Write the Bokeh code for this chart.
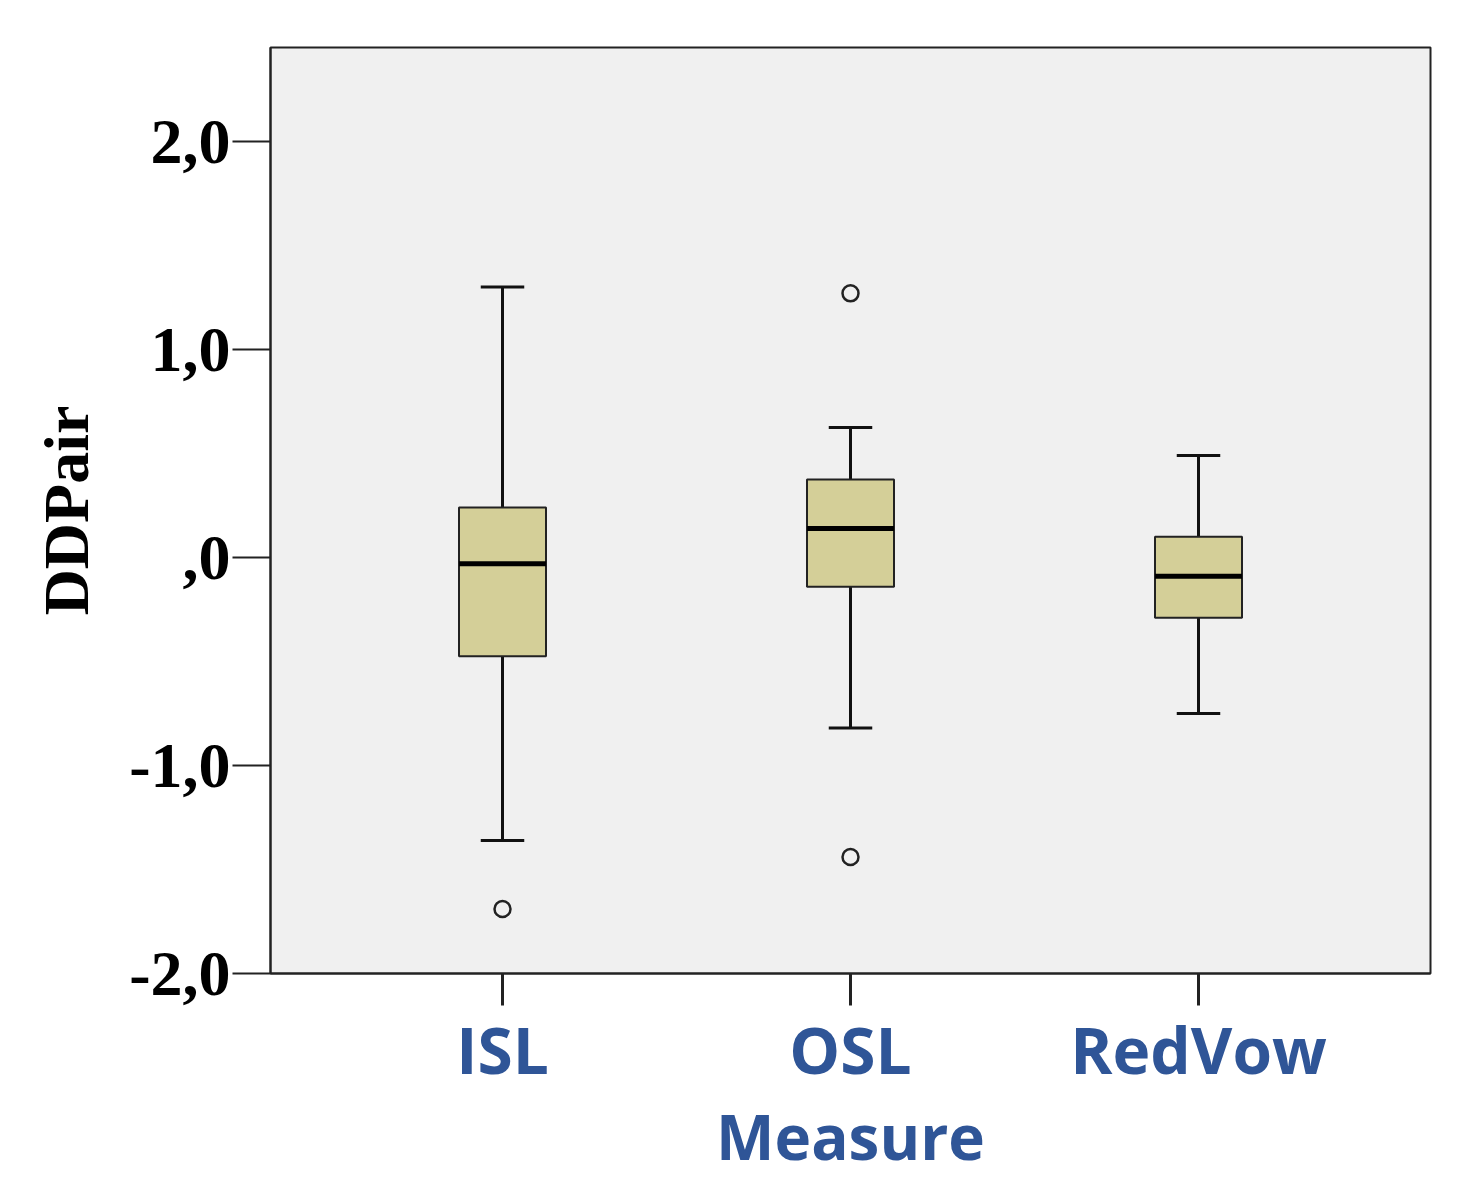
from bokeh.plotting import figure
from bokeh.models import Range1d, FixedTicker
from bokeh.embed import file_html
from bokeh.resources import INLINE

# ---- data ----
categories = ["ISL", "OSL", "RedVow"]
cat_pos = [1, 2, 3]
whisker_low = [-1.36, -0.82, -0.75]
q1 = [-0.475, -0.14, -0.29]
median = [-0.03, 0.14, -0.09]
q3 = [0.24, 0.375, 0.10]
whisker_high = [1.30, 0.625, 0.49]
outlier_cat = [1, 2, 2]
outlier_val = [-1.69, 1.27, -1.44]
y_ticks = [-2, -1, 0, 1, 2]
y_tick_labels = ["-2,0", "-1,0", ",0", "1,0", "2,0"]

BLUE = "#2f5597"
BOX = "#d4cf98"

p = figure(width=1458, height=1180, output_backend="svg", toolbar_location=None,
           x_range=Range1d(1/3, 11/3), y_range=Range1d(-2.0, 2.452),
           min_border_left=270, min_border_right=28, min_border_top=47, min_border_bottom=207)

p.background_fill_color = "#f0f0f0"
p.border_fill_color = "white"
p.outline_line_color = "#222222"
p.outline_line_width = 2
p.grid.visible = False

bw = 0.25
cap = 0.125
# whiskers
p.segment(x0=cat_pos, y0=q3, x1=cat_pos, y1=whisker_high, line_color="#111111", line_width=3)
p.segment(x0=cat_pos, y0=whisker_low, x1=cat_pos, y1=q1, line_color="#111111", line_width=3)
p.segment(x0=[c - cap/2 for c in cat_pos], y0=whisker_high, x1=[c + cap/2 for c in cat_pos], y1=whisker_high,
          line_color="#111111", line_width=3)
p.segment(x0=[c - cap/2 for c in cat_pos], y0=whisker_low, x1=[c + cap/2 for c in cat_pos], y1=whisker_low,
          line_color="#111111", line_width=3)
# boxes
p.vbar(x=cat_pos, width=bw, bottom=q1, top=q3, fill_color=BOX, line_color="#222222", line_width=2)
# medians
p.segment(x0=[c - bw/2 for c in cat_pos], y0=median, x1=[c + bw/2 for c in cat_pos], y1=median,
          line_color="black", line_width=5)
# outliers
p.scatter(x=outlier_cat, y=outlier_val, size=16, fill_color=None, line_color="#222222", line_width=2.5)

# x axis
xa = p.xaxis[0]
xa.ticker = FixedTicker(ticks=cat_pos)
xa.major_label_overrides = {c: n for c, n in zip(cat_pos, categories)}
xa.minor_tick_line_color = None
xa.major_tick_in = 0
xa.major_tick_out = 32
xa.major_tick_line_width = 3
xa.major_tick_line_color = "#222222"
xa.axis_line_color = "#222222"
xa.axis_line_width = 2
xa.major_label_text_font = "Open Sans"
xa.major_label_text_font_style = "bold"
xa.major_label_text_font_size = "64px"
xa.major_label_text_color = BLUE
xa.major_label_standoff = 0
xa.axis_label = "Measure"
xa.axis_label_text_font = "Open Sans"
xa.axis_label_text_font_style = "bold"
xa.axis_label_text_font_size = "62px"
xa.axis_label_text_color = BLUE
xa.axis_label_standoff = -2

# y axis
ya = p.yaxis[0]
ya.ticker = FixedTicker(ticks=y_ticks)
ya.major_label_overrides = {t: l for t, l in zip(y_ticks, y_tick_labels)}
ya.minor_tick_line_color = None
ya.major_tick_in = 0
ya.major_tick_out = 38
ya.major_tick_line_width = 2
ya.major_tick_line_color = "#222222"
ya.axis_line_color = "#222222"
ya.axis_line_width = 2
ya.major_label_text_font = "Liberation Serif"
ya.major_label_text_font_style = "bold"
ya.major_label_text_font_size = "64px"
ya.major_label_text_color = "black"
ya.major_label_standoff = 2
ya.axis_label = "DDPair"
ya.axis_label_text_font = "Liberation Serif"
ya.axis_label_text_font_style = "bold"
ya.axis_label_text_font_size = "64px"
ya.axis_label_text_color = "black"
ya.axis_label_standoff = 24

open("out.html", "w").write(file_html(p, INLINE))
